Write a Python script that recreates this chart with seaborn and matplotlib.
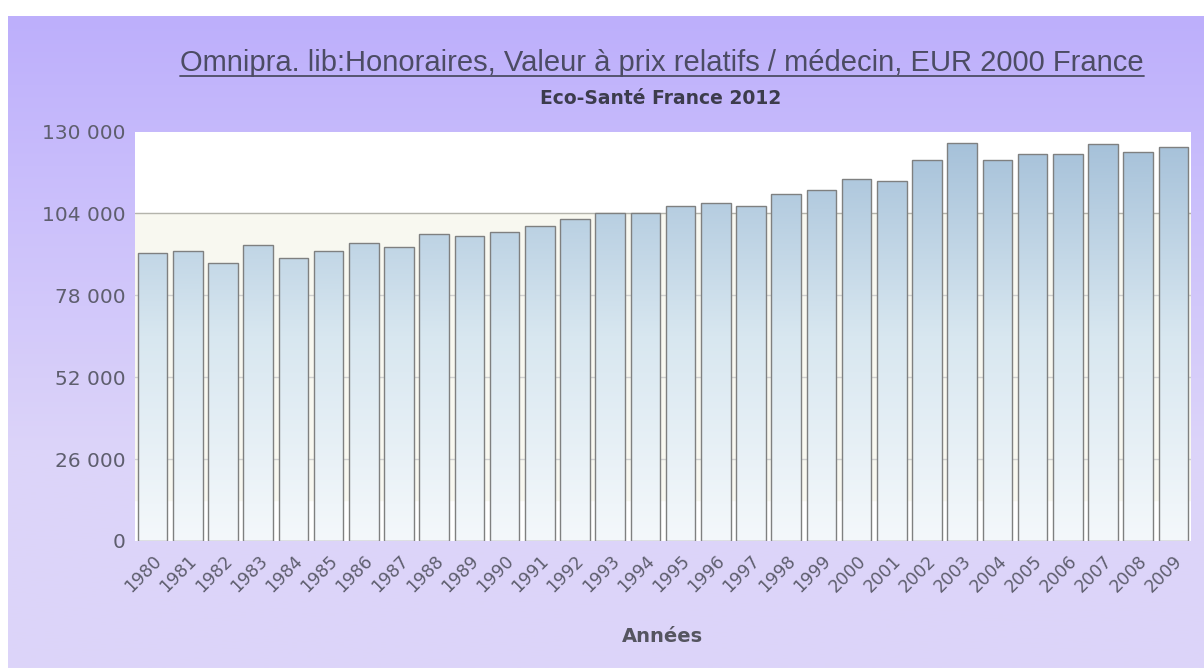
import numpy as np
import pandas as pd
import seaborn as sns
import matplotlib.pyplot as plt
from matplotlib.colors import LinearSegmentedColormap

# données
years = [str(y) for y in range(1980, 2010)]
values = [91400, 92100, 88400, 93900, 89700, 92100, 94500, 93400, 97400, 96900,
          98000, 99900, 102300, 104100, 104100, 106500, 107200, 106500, 110100, 111400,
          115000, 114400, 121100, 126500, 121100, 123000, 123000, 126000, 123500, 125200]
yticks = [0, 26000, 52000, 78000, 104000, 130000]
ytick_labels = ['0', '26 000', '52 000', '78 000', '104 000', '130 000']

title = "Omnipra. lib:Honoraires, Valeur à prix relatifs / médecin, EUR 2000 France"
subtitle = "Eco-Santé France 2012"
xlabel = "Années"

df = pd.DataFrame({'annee': years, 'valeur': values})

sns.set_style('white')
plt.rcParams['font.family'] = ['DejaVu Sans']

W, H = 1204, 668
fig = plt.figure(figsize=(W / 100, H / 100), dpi=100)
fig.patch.set_facecolor('white')

# fond violet dégradé
bg = fig.add_axes([8 / W, 0, 1 - 8 / W, 1 - 16 / H], zorder=-10)
bg_cmap = LinearSegmentedColormap.from_list('bg', ['#bdaffc', '#cdc2fb', '#dcd4f9', '#ddd5f9'])
bg.imshow(np.linspace(0, 1, 256).reshape(-1, 1), aspect='auto', cmap=bg_cmap,
          extent=[0, 1, 0, 1])
bg.axis('off')

ax = fig.add_axes([135 / W, 1 - 541 / H, (1191 - 135) / W, (541 - 131.5) / H])
ax.set_facecolor('white')

sns.barplot(data=df, x='annee', y='valeur', ax=ax, color='#aac4e0',
            edgecolor='#7f8080', linewidth=1.0, width=0.84, zorder=3)

# dégradé des barres
bar_cmap = LinearSegmentedColormap.from_list('bar', ['#f4f8fb', '#d8e7f0', '#a3bfd8'])
grad = np.linspace(0, 1, 256).reshape(-1, 1)
for p in ax.patches:
    x0, y0 = p.get_x(), p.get_y()
    w, h = p.get_width(), p.get_height()
    p.set_facecolor('none')
    im = ax.imshow(grad, aspect='auto', cmap=bar_cmap, origin='lower',
                   extent=[x0, x0 + w, 0, 130000], zorder=2.5)
    im.set_clip_path(p)

ax.set_xlim(-0.5, len(years) - 0.5)
ax.set_ylim(0, 130000)

# zone crème et grille
ax.axhspan(13000, 104000, color='#f8f8f0', zorder=0)
for t in yticks[1:-1]:
    ax.axhline(t, color='#d0d0d0' if t != 104000 else '#b4b4ac', lw=1, zorder=1)

ax.set_yticks(yticks)
ax.set_yticklabels(ytick_labels, color='#5e5e6e', fontsize=14.5)
ax.set_xticks(range(len(years)))
ax.set_xticklabels(years, rotation=45, ha='right', rotation_mode='anchor',
                   color='#5e5e6e', fontsize=12.5)
ax.tick_params(axis='both', length=0, pad=7)
ax.tick_params(axis='x', pad=8)
ax.set_xlabel('')
ax.set_ylabel('')
for s in ax.spines.values():
    s.set_visible(False)

# titres
t = fig.text(662 / W, 1 - 63 / H, title, ha='center', va='center',
             fontsize=21, color='#4c4c64', family='Liberation Sans')
fig.text(661 / W, 1 - 99 / H, subtitle, ha='center', va='center',
         fontsize=13.5, fontweight='bold', color='#3c3c4c')
fig.text(662 / W, 1 - 637 / H, xlabel, ha='center', va='center',
         fontsize=14, fontweight='bold', color='#555560')

# soulignement du titre
fig.canvas.draw()
bb = t.get_window_extent().transformed(fig.transFigure.inverted())
fig.add_artist(plt.Line2D([bb.x0, bb.x1], [bb.y0 + 0.002, bb.y0 + 0.002],
                          transform=fig.transFigure, color='#4c4c64', lw=1.3))

fig.savefig('out.png', dpi=100)
